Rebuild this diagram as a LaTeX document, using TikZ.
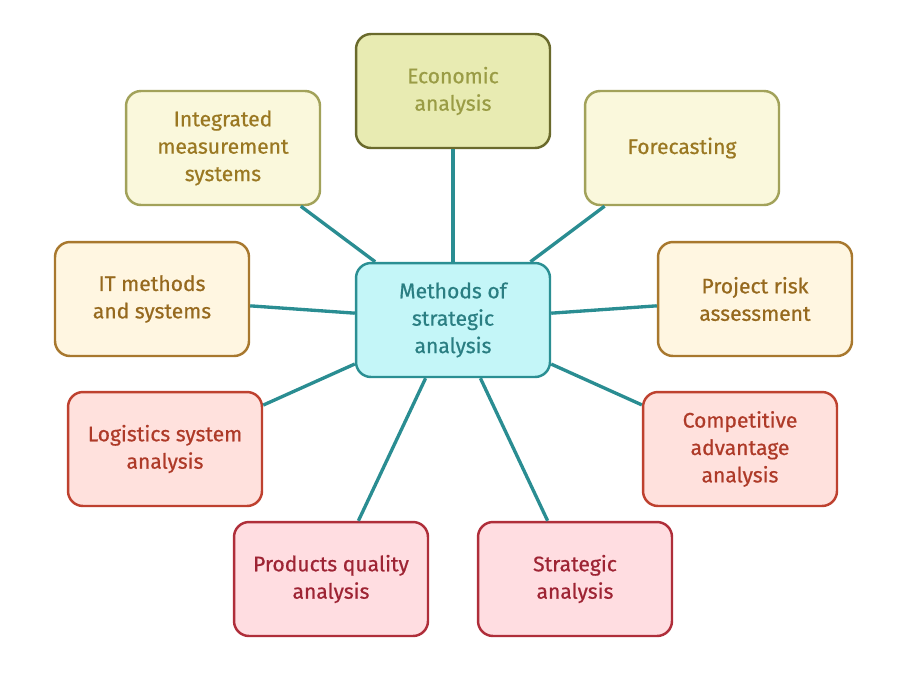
\documentclass[tikz,border=0pt]{standalone}
\usepackage{fontspec}
\setmainfont{Fira Sans}[FakeBold=0.6]
\usetikzlibrary{shapes}
\definecolor{linkcol}{HTML}{2A8D92}
\definecolor{hubfill}{HTML}{C4F6F8}
\definecolor{hubline}{HTML}{2B8F93}
\definecolor{hubtext}{HTML}{2A7E82}
\definecolor{econfill}{HTML}{E8EBB2}
\definecolor{econline}{HTML}{6A6A2C}
\definecolor{econtext}{HTML}{9A9C45}
\definecolor{olivefill}{HTML}{FAF8DC}
\definecolor{oliveline}{HTML}{A2A25A}
\definecolor{olivetext}{HTML}{9A7822}
\definecolor{amberfill}{HTML}{FFF6E1}
\definecolor{amberline}{HTML}{A8782E}
\definecolor{ambertext}{HTML}{96691E}
\definecolor{coralfill}{HTML}{FFE1DD}
\definecolor{coralline}{HTML}{BE412F}
\definecolor{coraltext}{HTML}{AE3A28}
\definecolor{rosefill}{HTML}{FFDDE1}
\definecolor{roseline}{HTML}{AF2E3A}
\definecolor{rosetext}{HTML}{9E2434}
\tikzstyle{box}=[rectangle,rounded corners=8.5pt,draw,line width=1.4pt,minimum width=3.88cm,minimum height=2.28cm,align=center,inner sep=2pt,font=\fontsize{12}{15.6}\selectfont]
\tikzstyle{hubbox}=[box,fill=hubfill,draw=hubline,text=hubtext]
\tikzstyle{econbox}=[box,fill=econfill,draw=econline,text=econtext]
\tikzstyle{olivebox}=[box,fill=olivefill,draw=oliveline,text=olivetext]
\tikzstyle{amberbox}=[box,fill=amberfill,draw=amberline,text=ambertext]
\tikzstyle{coralbox}=[box,fill=coralfill,draw=coralline,text=coraltext]
\tikzstyle{rosebox}=[box,fill=rosefill,draw=roseline,text=rosetext]
\tikzstyle{spoke} = [draw,line width=1.9pt,linkcol]

\begin{document}
\begin{tikzpicture}[x=0.02cm,y=-0.02cm]
 \useasboundingbox (0,0) rectangle (912,684);

 \node[hubbox] (hub) at (453,320) {Methods of\\strategic\\analysis};

     \foreach \pos/\name/\kind/\label in {{(453,91)/econ/econbox/{Economic\\analysis}}, {(223,148)/integ/olivebox/{Integrated\\measurement\\systems}}, {(682,148)/forecast/olivebox/{Forecasting}}, {(152,299)/itsys/amberbox/{IT methods\\and systems}}, {(755,299)/risk/amberbox/{Project risk\\assessment}}, {(165,449)/logist/coralbox/{Logistics system\\analysis}}, {(740,449)/compet/coralbox/{Competitive\\advantage\\analysis}}, {(331,579)/quality/rosebox/{Products quality\\analysis}}, {(575,579)/strat/rosebox/{Strategic\\analysis}}}
        \node[\kind] (\name) at \pos {\label};

  \foreach \dest in {econ, integ, forecast, itsys, risk, logist, compet, quality, strat}
        \path[spoke] (hub) -- (\dest);

   \end{tikzpicture}
\end{document}
